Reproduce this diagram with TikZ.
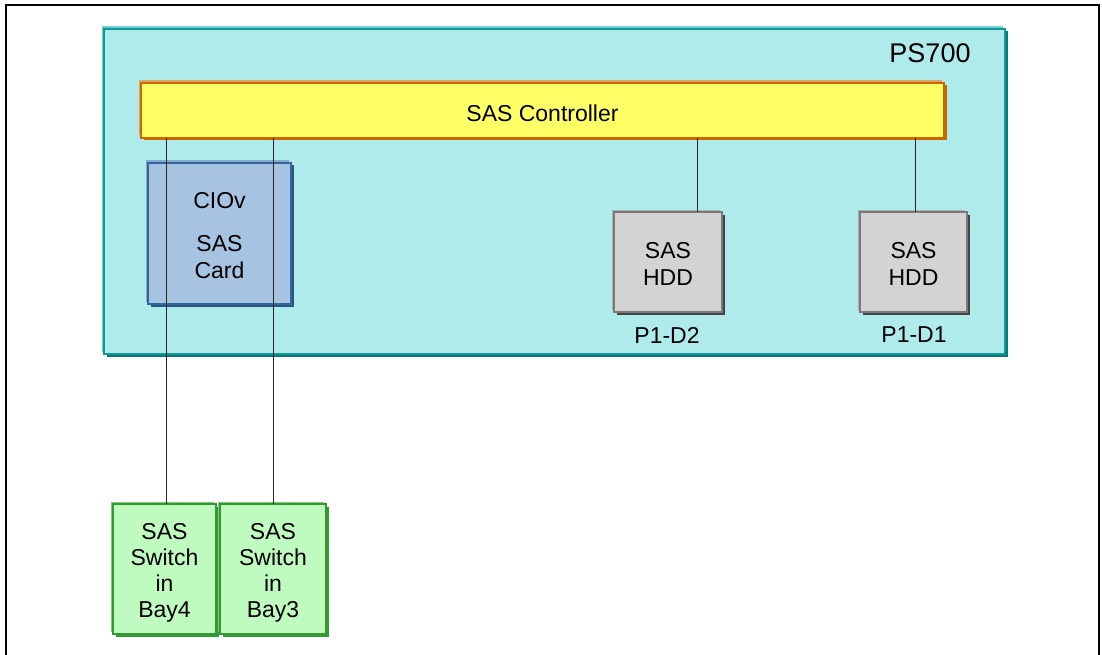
\documentclass[tikz,border=0pt]{standalone}
\usepackage{fontspec}
\setmainfont{Liberation Sans}
\usetikzlibrary{shadows,calc}

\definecolor{psfill}{HTML}{AFEBEB}
\definecolor{psline}{HTML}{109898}
\definecolor{pslight}{HTML}{70D0D0}
\definecolor{psdark}{HTML}{0B7878}
\definecolor{ctlfill}{HTML}{FFFF66}
\definecolor{ctlline}{HTML}{CC6600}
\definecolor{ctllight}{HTML}{DDA266}
\definecolor{cardfill}{HTML}{A6C3E1}
\definecolor{cardline}{HTML}{336699}
\definecolor{cardlight}{HTML}{86A9CF}
\definecolor{carddark}{HTML}{2A5580}
\definecolor{hddfill}{HTML}{D3D3D3}
\definecolor{hddline}{HTML}{7A7A7A}
\definecolor{hddlight}{HTML}{B0B0B0}
\definecolor{hdddark}{HTML}{444444}
\definecolor{swfill}{HTML}{BFFABF}
\definecolor{swline}{HTML}{339933}
\definecolor{swlight}{HTML}{80C880}

\tikzset{
  txt/.style={font=\fontsize{23}{27}\selectfont, text=black, align=center},
  boxbase/.style={rectangle, inner sep=0pt, outer sep=0pt, anchor=north west},
  raised/.style n args={4}{boxbase, fill=#1, draw=#2,
    general shadow={shadow xshift=-2.5pt, shadow yshift=2.5pt, fill=#3},
    general shadow={shadow xshift=2.5pt, shadow yshift=-2.5pt, fill=#4}},
  caption/.style 2 args={label={[txt, yshift=#1]center:{#2}}},
  psbox/.style={raised={psfill}{psline}{pslight}{psdark}, line width=2.6pt},
  ctlbox/.style={raised={ctlfill}{ctlline}{ctllight}{ctlline}, line width=2.2pt},
  cardbox/.style={raised={cardfill}{cardline}{cardlight}{carddark}, line width=2.4pt},
  hddbox/.style={raised={hddfill}{hddline}{hddlight}{hdddark}, line width=2pt},
  swbox/.style={raised={swfill}{swline}{swlight}{swline}, line width=2.6pt},
  wire/.style={draw=black!85, line width=1pt},
  frameline/.style={draw=black, line width=1.6pt}
}

\begin{document}
\begin{tikzpicture}[x=1pt, y=-1pt]
  \useasboundingbox (0,0) rectangle (1102,655);

  % surrounding frame, open at the bottom
  \draw[frameline] (6,655) -- (6,5) -- (1099,5) -- (1099,655);

  % chassis
  \node[psbox, minimum width=901pt, minimum height=325pt] (ps700) at (104,29) {};
  \node[txt, font=\fontsize{27}{30}\selectfont] (pslabel) at (930,53) {PS700};

  % controller bar
  \node[ctlbox, minimum width=803pt, minimum height=55pt,
        caption={-3pt}{SAS Controller}] (ctrl) at (141,83) {};

  % expansion card
  \node[cardbox, minimum width=143pt, minimum height=141pt,
        caption={-2pt}{CIOv\\[16pt]SAS\\Card}] (ciov) at (148,163) {};

  % disks
  \node[hddbox, minimum width=108pt, minimum height=100pt,
        caption={-2pt}{SAS\\HDD}] (hdd2) at (614,212) {};
  \node[hddbox, minimum width=107pt, minimum height=100pt,
        caption={-2pt}{SAS\\HDD}] (hdd1) at (860,212) {};
  \node[txt] (loc2) at (667,335) {P1-D2};
  \node[txt] (loc1) at (914,335) {P1-D1};

  % switch modules
  \node[swbox, minimum width=103pt, minimum height=130pt,
        caption={-3.5pt}{SAS\\[-1pt]Switch\\[-1pt]in\\[-1pt]Bay4}] (sw4) at (113,504) {};
  \node[swbox, minimum width=106pt, minimum height=130pt,
        caption={-3.5pt}{SAS\\[-1pt]Switch\\[-1pt]in\\[-1pt]Bay3}] (sw3) at (220,504) {};

  % cabling
  \coordinate (t4) at ($(sw4.north)+(1.5,0)$);
  \coordinate (t2) at ($(hdd2.north)+(29,0)$);
  \coordinate (t1) at ($(hdd1.north)+(2,0)$);
  \draw[wire] (t4 |- ctrl.south) -- (t4);
  \draw[wire] (ctrl.south -| sw3.north) -- (sw3.north);
  \draw[wire] (t2 |- ctrl.south) -- (t2);
  \draw[wire] (t1 |- ctrl.south) -- (t1);
\end{tikzpicture}
\end{document}
